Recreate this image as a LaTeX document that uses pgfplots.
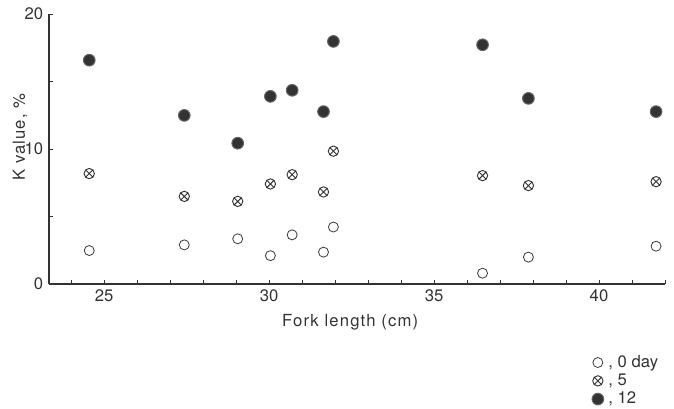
\documentclass[border=0pt]{standalone}
\usepackage{pgfplots}
\pgfplotsset{compat=1.18}
\usepackage{fontspec}
\setmainfont{TeX Gyre Heros}
\newfontfamily\lblfont{TeX Gyre Heros}[LetterSpace=7]
\usetikzlibrary{plotmarks}
\begin{document}
\begin{tikzpicture}
\path[use as bounding box] (-29.4pt,-74.4pt) rectangle (375pt,170.4pt);
\begin{axis}[
  at={(0,0)}, anchor=south west,
  scale only axis, width=369.6pt, height=162pt,
  xmin=23.33, xmax=42, ymin=0, ymax=20,
  axis x line=bottom, axis y line=left,
  axis line style={-, line width=0.8pt, black!80},
  xtick={25,30,35,40}, minor xtick={24,26,27,28,29,31,32,33,34,36,37,38,39,41,42},
  ytick={0,10,20}, minor ytick={5,15},
  tick style={black!80, line width=0.6pt},
  major tick length=2.5pt, minor tick length=2.5pt,
  tick align=inside,
  font=\fontsize{10}{12}\selectfont,
  /pgf/number format/assume math mode=true,
  ticklabel style={font=\fontsize{10}{12}\selectfont, text=black!80},
  xlabel={\lblfont Fork length (cm)}, ylabel={\lblfont K value, \%},
  xlabel style={at={(axis description cs:0.489,-0.141)}, anchor=center, text=black!80},
  ylabel style={at={(axis description cs:-0.047,0.544)}, anchor=center, text=black!80},
  legend style={at={(axis description cs:0.881,-0.255)}, anchor=north west, draw=none, fill=none,
    font=\fontsize{10}{11}\selectfont, row sep=0pt, inner sep=0pt,
    nodes={inner sep=1.2pt, text=black!80}},
  legend cell align=left,
  legend image code/.code={\draw[#1] plot coordinates {(0.12cm,0cm)};},
  clip=false,
]
\addplot[only marks, mark=o, mark size=3pt, mark options={draw=black!75, line width=0.5pt, fill=white}] coordinates {
(24.55,2.48) (27.43,2.90) (29.05,3.35) (30.04,2.10) (30.70,3.64) (31.65,2.36) (31.95,4.22) (36.47,0.80) (37.86,1.99) (41.73,2.80)
};
\addlegendentry{\,, 0 day}
\addplot[only marks, mark=otimes, mark size=3.1pt, mark options={draw=black!80, line width=0.55pt, fill=white}] coordinates {
(24.55,8.18) (27.43,6.49) (29.05,6.12) (30.04,7.41) (30.70,8.10) (31.65,6.82) (31.95,9.84) (36.47,8.03) (37.86,7.29) (41.73,7.58)
};
\addlegendentry{\,, 5}
\addplot[only marks, mark=*, mark size=3.5pt, mark options={draw=black!60, line width=0.6pt, fill=black!80}] coordinates {
(24.55,16.58) (27.43,12.49) (29.05,10.43) (30.04,13.90) (30.70,14.35) (31.65,12.77) (31.95,17.97) (36.47,17.72) (37.86,13.75) (41.73,12.77)
};
\addlegendentry{\,, 12}
\end{axis}
\end{tikzpicture}
\end{document}
